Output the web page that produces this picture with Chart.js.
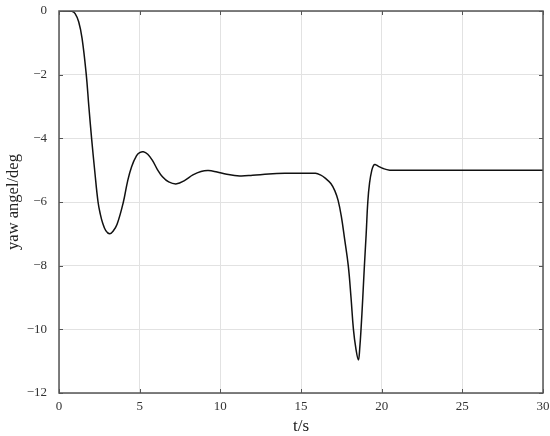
<!DOCTYPE html>
<html>
<head>
<meta charset="utf-8">
<script src="https://cdn.jsdelivr.net/npm/chart.js@4/dist/chart.umd.min.js"></script>
<style>
  html, body { margin: 0; padding: 0; background: #fff; }
  #wrap { width: 550px; height: 436px; }
</style>
</head>
<body>
<div id="wrap"><canvas id="yawChart"></canvas></div>
<script>
// time (s) and yaw angle (deg)
const timeValues = [0, 0.5, 0.8, 1.0, 1.22, 1.43, 1.69, 1.85, 2.02, 2.22, 2.42, 2.56, 2.7, 2.9, 3.14,
  3.35, 3.6, 3.99, 4.25, 4.5, 4.8, 5.0, 5.23, 5.5, 5.8, 6.1, 6.4, 6.8, 7.3, 7.8, 8.3, 8.8, 9.26, 9.8,
  10.4, 11.2, 12.0, 13.0, 14.0, 15.0, 15.9, 16.2, 16.5, 16.85, 17.1, 17.3, 17.5, 17.7, 17.93,
  18.1, 18.25, 18.4, 18.56, 18.64, 18.72, 18.83, 18.93, 19.04, 19.14, 19.25, 19.39, 19.5,
  19.59, 19.8, 20.1, 20.5, 21, 30];
const yawValues = [0, 0, -0.01, -0.08, -0.34, -0.86, -2.0, -3.0, -4.0, -5.05, -6.0, -6.38, -6.65, -6.9, -7.0,
  -6.92, -6.7, -6.0, -5.35, -4.89, -4.55, -4.45, -4.42, -4.5, -4.7, -4.98, -5.2, -5.37, -5.43, -5.32, -5.15, -5.04, -5.01, -5.06,
  -5.13, -5.18, -5.16, -5.12, -5.1, -5.1, -5.1, -5.15, -5.25, -5.42, -5.65, -5.95, -6.45, -7.15, -8.0,
  -9.0, -10.0, -10.6, -10.96, -10.6, -10.0, -9.0, -8.0, -7.0, -6.0, -5.4, -5.0, -4.85,
  -4.82, -4.88, -4.95, -5.0, -5.0, -5.0];

const xTicks = [0, 5, 10, 15, 20, 25, 30];
const yTicks = [0, -2, -4, -6, -8, -10, -12];

const points = timeValues.map((t, i) => ({ x: t, y: yawValues[i] }));
const serif = "'Liberation Serif', 'Times New Roman', serif";

// frame + inward tick marks on all four sides
const framePlugin = {
  id: "frame",
  afterDraw(chart) {
    const { ctx, chartArea: a } = chart;
    const xs = chart.scales.x;
    const ys = chart.scales.y;
    const len = 4;
    ctx.save();
    ctx.strokeStyle = "#555";
    ctx.lineWidth = 1;
    ctx.beginPath();
    xTicks.forEach(v => {
      const px = Math.round(xs.getPixelForValue(v)) + 0.5;
      ctx.moveTo(px, a.bottom); ctx.lineTo(px, a.bottom - len);
      ctx.moveTo(px, a.top); ctx.lineTo(px, a.top + len);
    });
    yTicks.forEach(v => {
      const py = Math.round(ys.getPixelForValue(v)) + 0.5;
      ctx.moveTo(a.left, py); ctx.lineTo(a.left + len, py);
      ctx.moveTo(a.right, py); ctx.lineTo(a.right - len, py);
    });
    ctx.stroke();
    ctx.lineWidth = 1.5;
    ctx.strokeRect(a.left, a.top, a.right - a.left, a.bottom - a.top);
    ctx.restore();
  }
};

new Chart(document.getElementById("yawChart"), {
  type: "line",
  data: {
    datasets: [{
      data: points,
      borderColor: "#111",
      borderWidth: 1.5,
      pointRadius: 0,
      tension: 0.4,
      fill: false
    }]
  },
  options: {
    responsive: true,
    maintainAspectRatio: false,
    animation: false,
    layout: { padding: { left: 0, right: 7, top: 11, bottom: 0 } },
    plugins: {
      legend: { display: false },
      tooltip: { enabled: false }
    },
    scales: {
      x: {
        type: "linear",
        min: 0,
        max: 30,
        afterBuildTicks(scale) { scale.ticks = xTicks.map(v => ({ value: v })); },
        afterFit(scale) {
          scale.height = 43;
          scale.paddingLeft = 0;
          scale.paddingRight = 0;
        },
        grid: { color: "#e2e2e2", drawTicks: false },
        border: { display: false },
        ticks: {
          color: "#333",
          padding: 6,
          maxRotation: 0,
          font: { family: serif, size: 13 }
        },
        title: {
          display: true,
          text: "t/s",
          color: "#222",
          padding: { top: 0, bottom: 0 },
          font: { family: serif, size: 17, lineHeight: 1.1 }
        }
      },
      y: {
        type: "linear",
        min: -12,
        max: 0,
        afterBuildTicks(scale) { scale.ticks = yTicks.map(v => ({ value: v })); },
        afterFit(scale) {
          scale.width = 59;
          scale.paddingTop = 0;
          scale.paddingBottom = 0;
        },
        grid: { color: "#e2e2e2", drawTicks: false },
        border: { display: false },
        ticks: {
          color: "#333",
          padding: 12,
          font: { family: serif, size: 13 },
          callback: v => String(v).replace("-", "\u2212")
        },
        title: {
          display: true,
          text: "yaw angel/deg",
          color: "#222",
          padding: { top: 4, bottom: 0 },
          font: { family: serif, size: 16.5, lineHeight: 1.2 }
        }
      }
    }
  },
  plugins: [framePlugin]
});
</script>
</body>
</html>
